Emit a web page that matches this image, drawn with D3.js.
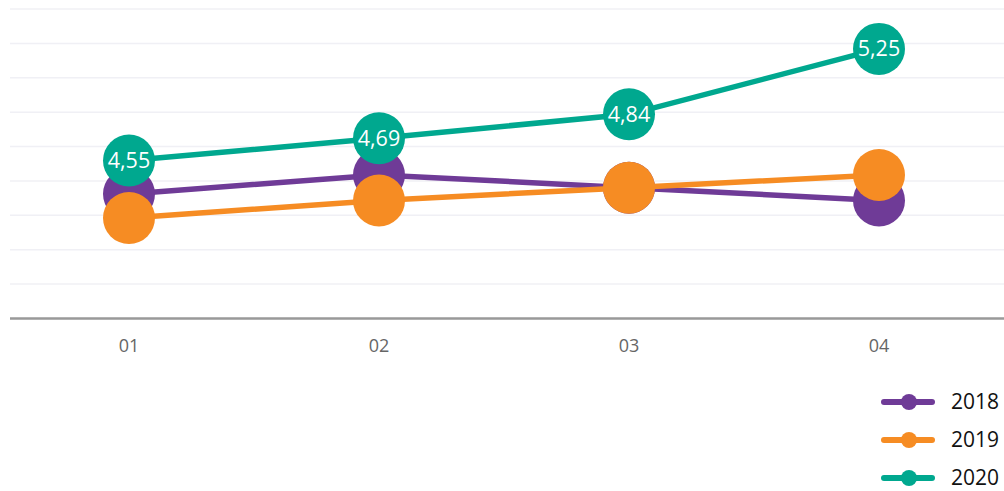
<!DOCTYPE html>
<html lang="en">
<head>
    <meta charset="UTF-8">
    <title>Line chart 2018-2020</title>
    <script src="https://d3js.org/d3.v7.min.js"></script>
    <style>
        body { margin: 0; background: #fff; }
        text { font-family: "Open Sans", sans-serif; }
        .grid line { stroke: #f0f0f5; stroke-width: 1.5; }
        .axis-label { fill: #666; font-size: 18px; text-anchor: middle; }
        .value-label { fill: #fff; font-size: 21.5px; text-anchor: middle; }
        .legend-label { fill: #111; font-size: 21px; }
    </style>
</head>
<body>

<svg width="1004" height="491"></svg>

<script>
    // data
    const categories = ["01", "02", "03", "04"];
    const years = ["2018", "2019", "2020"];
    const values2018 = [4.34, 4.46, 4.38, 4.30];
    const values2019 = [4.19, 4.30, 4.38, 4.46];
    const values2020 = [4.55, 4.69, 4.84, 5.25];
    const colors = ["#6f3b97", "#f68c23", "#00a88f"];
    const showLabels = [false, false, true];

    const series = [values2018, values2019, values2020];

    const svg = d3.select("svg");
    const width = 1004;

    const x = d3.scalePoint()
        .domain(categories)
        .range([4, 1004])
        .padding(0.5);

    const yMin = 3.56, yMax = 5.50;
    const y = d3.scaleLinear()
        .domain([yMin, yMax])
        .range([318.5, 9]);

    // grid lines (10 evenly spaced, the lowest one is the axis)
    const gridValues = d3.range(1, 10).map(i => yMin + i * (yMax - yMin) / 9);
    svg.append("g")
        .attr("class", "grid")
        .selectAll("line")
        .data(gridValues)
        .join("line")
        .attr("x1", 10)
        .attr("x2", width)
        .attr("y1", d => y(d))
        .attr("y2", d => y(d));

    // x axis
    svg.append("line")
        .attr("x1", 10)
        .attr("x2", width)
        .attr("y1", y(yMin))
        .attr("y2", y(yMin))
        .attr("stroke", "#999")
        .attr("stroke-width", 2.5);

    svg.append("g")
        .selectAll("text")
        .data(categories)
        .join("text")
        .attr("class", "axis-label")
        .attr("x", d => x(d))
        .attr("y", 352)
        .text(d => d);

    const line = d3.line()
        .x((d, i) => x(categories[i]))
        .y(d => y(d));

    const fmt = d => d.toFixed(2).replace(".", ",");

    series.forEach((vals, s) => {
        const g = svg.append("g");

        g.append("path")
            .datum(vals)
            .attr("d", line)
            .attr("fill", "none")
            .attr("stroke", colors[s])
            .attr("stroke-width", 5.5);

        g.selectAll("circle")
            .data(vals)
            .join("circle")
            .attr("cx", (d, i) => x(categories[i]))
            .attr("cy", d => y(d))
            .attr("r", 26)
            .attr("fill", colors[s]);

        if (showLabels[s]) {
            g.selectAll("text")
                .data(vals)
                .join("text")
                .attr("class", "value-label")
                .attr("x", (d, i) => x(categories[i]))
                .attr("y", d => y(d))
                .attr("dy", "0.35em")
                .text(fmt);
        }
    });

    // legend
    const legend = svg.append("g")
        .selectAll("g")
        .data(years)
        .join("g")
        .attr("transform", (d, i) => `translate(0, ${402 + i * 38})`);

    legend.append("line")
        .attr("x1", 884)
        .attr("x2", 932)
        .attr("stroke", (d, i) => colors[i])
        .attr("stroke-width", 6)
        .attr("stroke-linecap", "round");

    legend.append("circle")
        .attr("cx", 909)
        .attr("r", 8)
        .attr("fill", (d, i) => colors[i]);

    legend.append("text")
        .attr("class", "legend-label")
        .attr("x", 951)
        .attr("dy", "0.35em")
        .text(d => d);
</script>

</body>
</html>
